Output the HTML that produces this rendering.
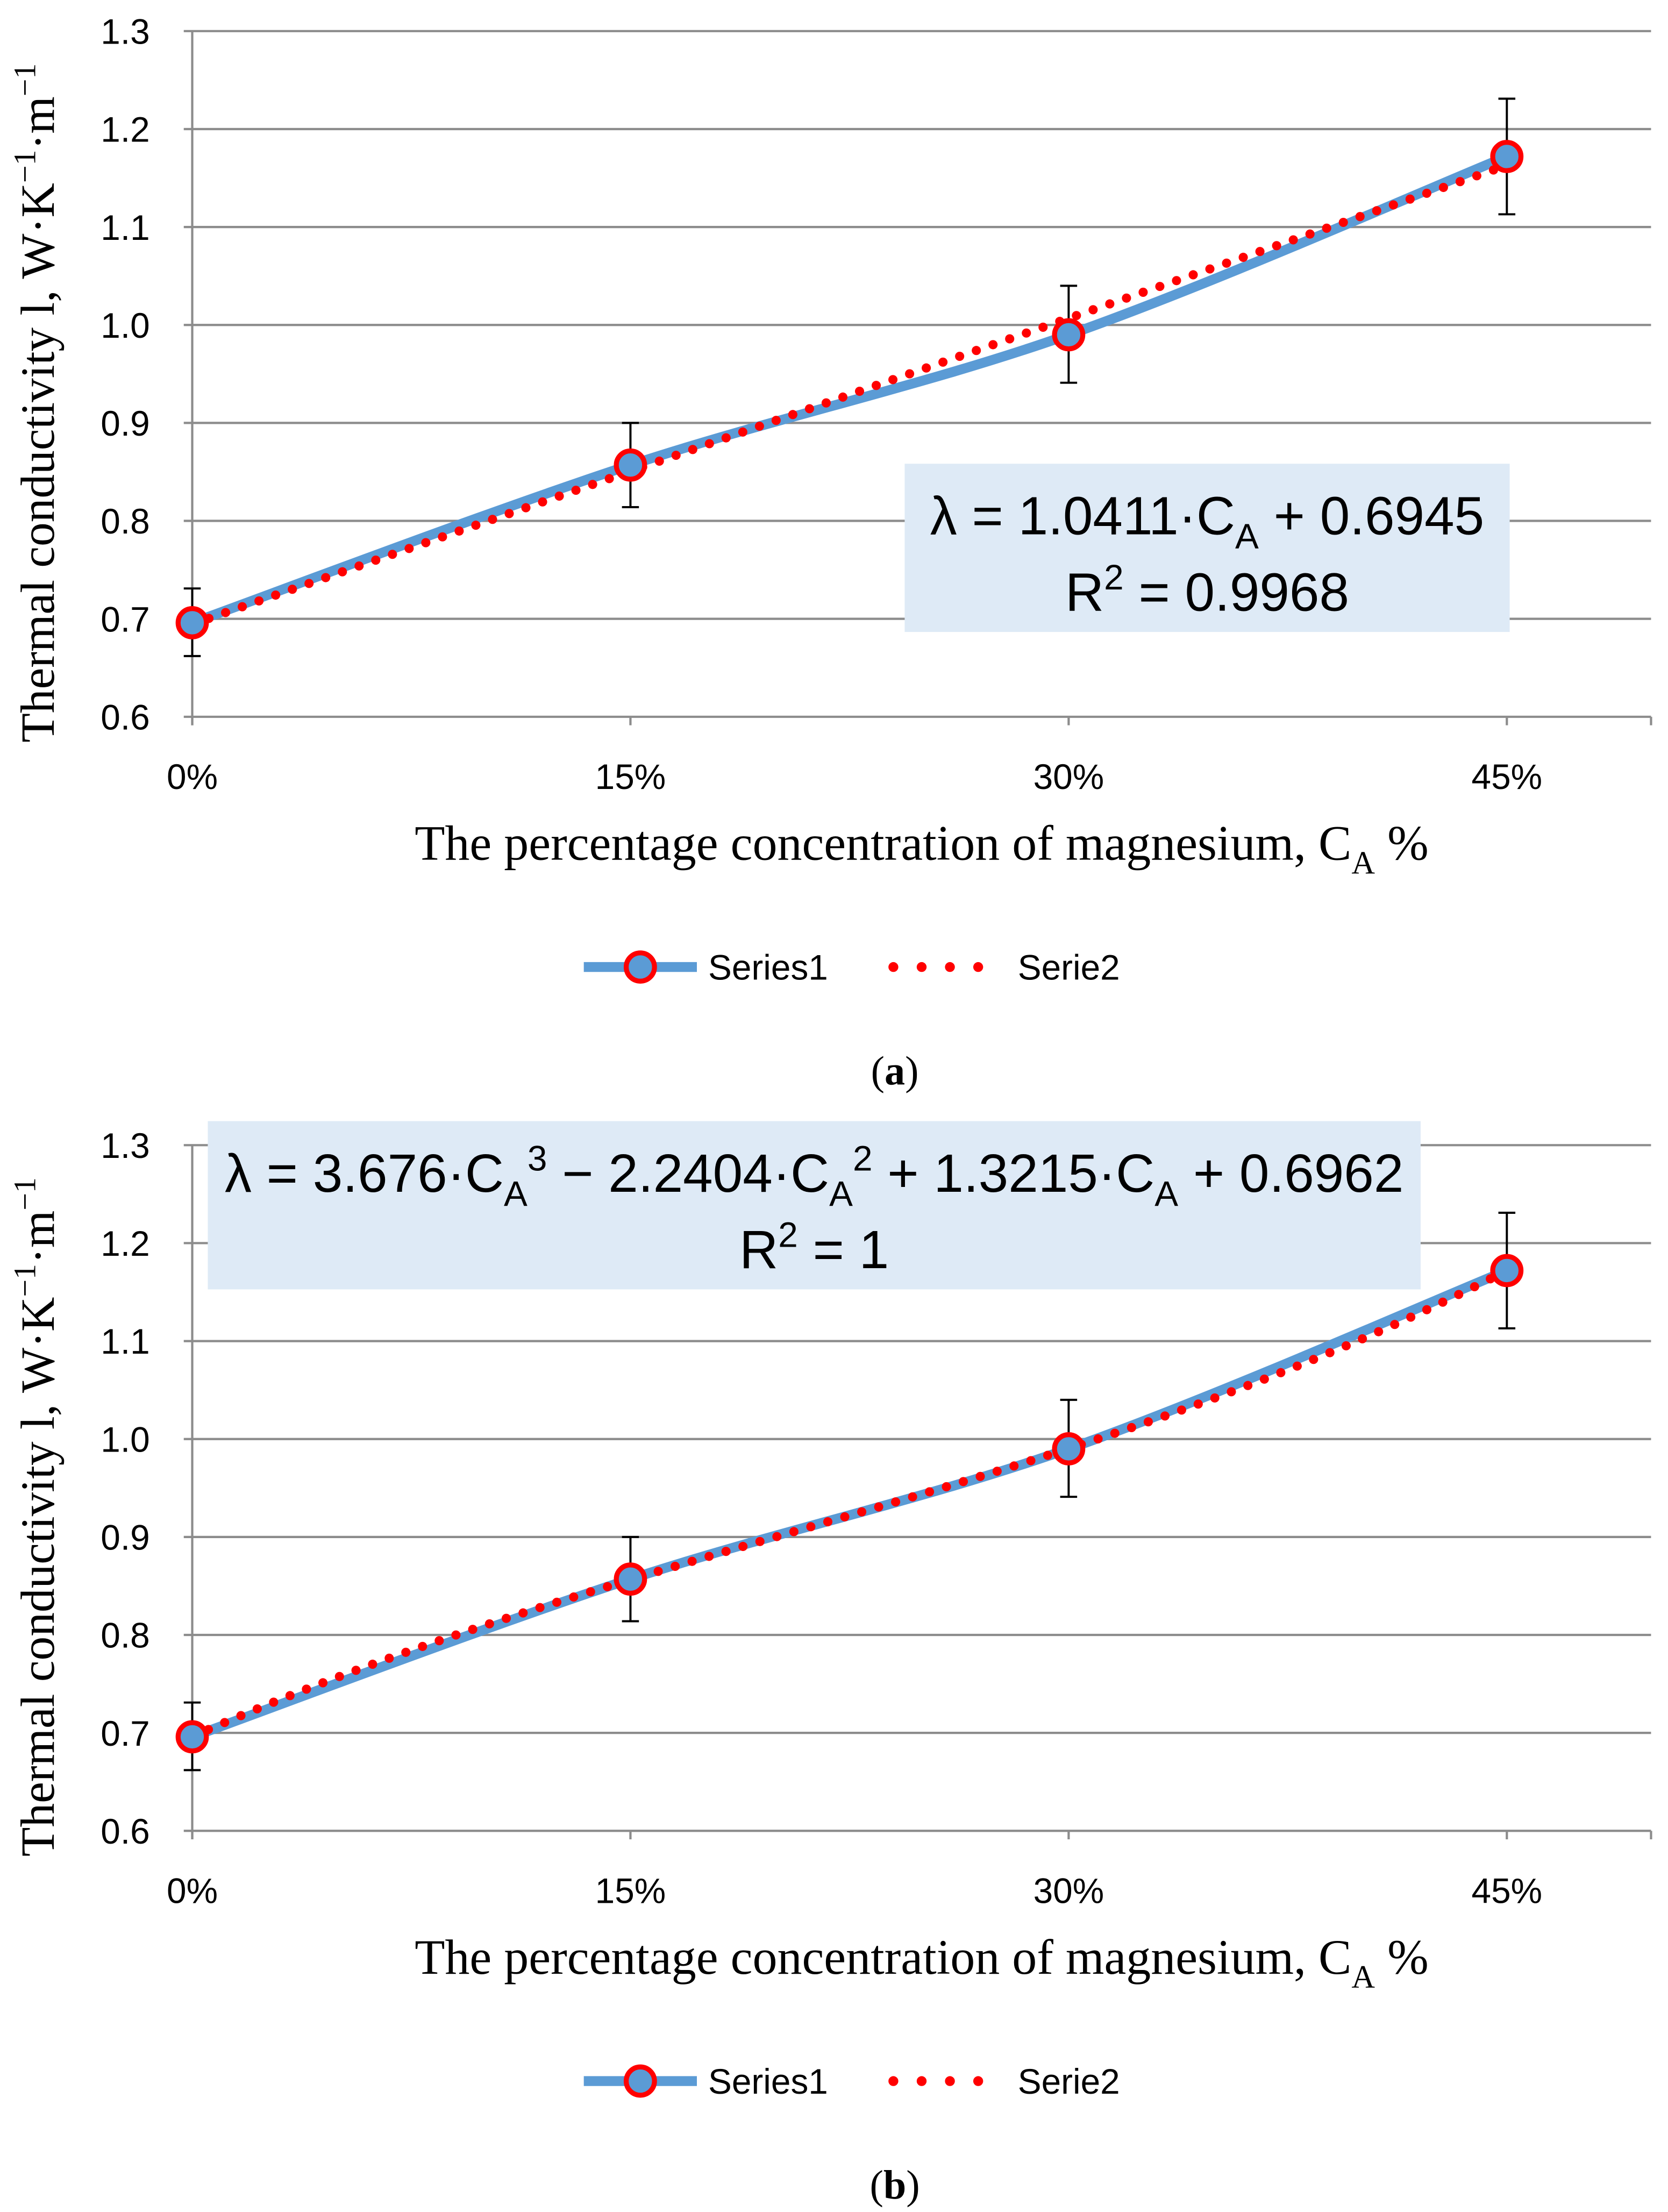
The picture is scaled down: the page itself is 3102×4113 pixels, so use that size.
<!DOCTYPE html>
<html><head><meta charset="utf-8"><style>
html,body{margin:0;padding:0;background:#fff;}
svg{display:block;}
.tick{font-family:"Liberation Sans Narrow","Liberation Sans",sans-serif;font-size:25px;fill:#000;}
.serif{font-family:"Liberation Serif",serif;fill:#000;}
.eq{font-family:"Liberation Sans Narrow","Liberation Sans",sans-serif;font-size:38px;fill:#000;}
</style></head><body>
<svg id="fig" width="3102" height="4113" viewBox="0 0 1180 1564.6" preserveAspectRatio="none" xmlns="http://www.w3.org/2000/svg"></svg>
<script>
const categories = [0, 15, 30, 45];
const seriesValues = [0.696, 0.857, 0.990, 1.172];
const errLow = [0.662, 0.814, 0.941, 1.113];
const errHigh = [0.731, 0.900, 1.040, 1.231];
const yTicks = [0.6, 0.7, 0.8, 0.9, 1.0, 1.1, 1.2, 1.3];
const xTickLabels = ["0%", "15%", "30%", "45%"];
const trendA = [0.6945, 1.0411];
const trendB = [0.6962, 1.3215, -2.2404, 3.676];

const NS = "http://www.w3.org/2000/svg";
const svg = document.getElementById('fig');
function mk(tag, attrs, parent, text){
  const e = document.createElementNS(NS, tag);
  for (const k in attrs) e.setAttribute(k, attrs[k]);
  if (text !== undefined) e.textContent = text;
  (parent || svg).appendChild(e);
  return e;
}

function drawChart(top, coeffs, box, eqLines, label, id){
  const g = mk('g', {});
  
  
  const x0 = 136, xPer = (1066 - 136) / 45, xRight = 1168;
  const yTop = top, yBot = top + 485;
  const X = v => x0 + v * xPer;
  const Y = v => yBot - (v - 0.6) / 0.7 * (yBot - yTop);
  yTicks.forEach(t => {
    const l = mk('line', {x1: x0 - 6, x2: xRight, y1: Y(t), y2: Y(t), stroke: '#8c8c8c', 'stroke-width': 1.6}, g);
    
    
    const tx = mk('text', {x: 106, y: Y(t) + 9, 'text-anchor': 'end', class: 'tick'}, g, t.toFixed(1));
    
    
  });
  mk('line', {x1: x0, x2: x0, y1: yTop, y2: yBot + 6, stroke: '#8c8c8c', 'stroke-width': 1.6}, g);
  categories.forEach((c, i) => {
    mk('line', {x1: X(c), x2: X(c), y1: yBot, y2: yBot + 6, stroke: '#8c8c8c', 'stroke-width': 1.6}, g);
    const tx = mk('text', {x: X(c), y: yBot + 51, 'text-anchor': 'middle', class: 'tick'}, g, xTickLabels[i]);
    
    
  });
  mk('line', {x1: xRight, x2: xRight, y1: yBot, y2: yBot + 6, stroke: '#8c8c8c', 'stroke-width': 1.6}, g);
  const yt = mk('text', {x: 0, y: 0, transform: `translate(38,${top + 263}) rotate(-90)`, 'text-anchor': 'middle', class: 'serif', 'font-size': 34}, g);
  yt.innerHTML = 'Thermal conductivity l, W·K<tspan dy="-13" font-size="22">−1</tspan><tspan dy="13">·m</tspan><tspan dy="-13" font-size="22">−1</tspan>';
  
  
  const xt = mk('text', {x: 652, y: yBot + 101, 'text-anchor': 'middle', class: 'serif', 'font-size': 35}, g);
  xt.innerHTML = 'The percentage concentration of magnesium, C<tspan dy="10" font-size="23">A</tspan><tspan dy="-10"> %</tspan>';
  
  
  const f = c => { const x = c / 100; let s = 0; coeffs.forEach((a, k) => s += a * Math.pow(x, k)); return s; };
  let d = '';
  for (let c = 0; c <= 45; c += 0.5) d += (c ? 'L' : 'M') + X(c).toFixed(2) + ',' + Y(f(c)).toFixed(2);
  const pts = categories.map((c, i) => [X(c), Y(seriesValues[i])]);
  let s = 'M' + pts[0][0] + ',' + pts[0][1];
  const t = 1 / 3;
  for (let i = 0; i < pts.length - 1; i++) {
    const p0 = pts[Math.max(0, i - 1)], p1 = pts[i], p2 = pts[i + 1], p3 = pts[Math.min(pts.length - 1, i + 2)];
    const c1 = [p1[0] + (p2[0] - p0[0]) * t / 2, p1[1] + (p2[1] - p0[1]) * t / 2];
    const c2 = [p2[0] - (p3[0] - p1[0]) * t / 2, p2[1] - (p3[1] - p1[1]) * t / 2];
    s += `C${c1[0]},${c1[1]} ${c2[0]},${c2[1]} ${p2[0]},${p2[1]}`;
  }
  const sl = mk('path', {d: s, fill: 'none', stroke: '#5B9BD5', 'stroke-width': 7, 'stroke-linecap': 'round'}, g);
  
  
  const tl = mk('path', {d: d, fill: 'none', stroke: '#ff0000', 'stroke-width': 6.5, 'stroke-linecap': 'round', 'stroke-dasharray': '0 12.5'}, g);
  
  
  categories.forEach((c, i) => {
    const e = mk('path', {d: `M${X(c)},${Y(errLow[i])}V${Y(errHigh[i])}M${X(c)-6},${Y(errLow[i])}h12M${X(c)-6},${Y(errHigh[i])}h12`, stroke: '#000', 'stroke-width': 1.5, fill: 'none'}, g);
    
    
    const m = mk('circle', {cx: X(c), cy: Y(seriesValues[i]), r: 10, fill: '#5B9BD5', stroke: '#ff0000', 'stroke-width': 3.5}, g);
    
    
  });
  const b = mk('rect', {x: box[0], y: box[1], width: box[2], height: box[3], fill: '#DEEAF6'}, g);
  
  
  const cx = box[0] + box[2] / 2;
  const e1 = mk('text', {x: cx, y: box[1] + 50, 'text-anchor': 'middle', class: 'eq'}, g);
  e1.innerHTML = eqLines[0];
  
  
  const e2 = mk('text', {x: cx, y: box[1] + 104, 'text-anchor': 'middle', class: 'eq'}, g);
  e2.innerHTML = eqLines[1];
  
  
  const ly = yBot + 177;
  const lg = mk('g', {}, g);
  
  
  mk('line', {x1: 413, x2: 493, y1: ly, y2: ly, stroke: '#5B9BD5', 'stroke-width': 7}, lg);
  mk('circle', {cx: 453, cy: ly, r: 10, fill: '#5B9BD5', stroke: '#ff0000', 'stroke-width': 3.5}, lg);
  mk('text', {x: 501, y: ly + 9, class: 'tick', 'font-size': 26}, lg, 'Series1');
  mk('line', {x1: 632, x2: 712, y1: ly, y2: ly, stroke: '#ff0000', 'stroke-width': 7, 'stroke-linecap': 'round', 'stroke-dasharray': '0 20'}, lg);
  mk('text', {x: 720, y: ly + 9, class: 'tick', 'font-size': 26}, lg, 'Serie2');
  const cap = mk('text', {x: 633, y: yBot + 260, 'text-anchor': 'middle', class: 'serif', 'font-size': 29}, g);
  cap.innerHTML = '(<tspan font-weight="bold">' + label + '</tspan>)';
  
  
}

drawChart(22, trendA, [640, 328, 428, 119],
  ['λ = 1.0411·C<tspan dy="10" font-size="25">A</tspan><tspan dy="-10"> + 0.6945</tspan>',
   'R<tspan dy="-15" font-size="25">2</tspan><tspan dy="15"> = 0.9968</tspan>'], 'a', 'a');
drawChart(810, trendB, [147, 793, 858, 119],
  ['λ = 3.676·C<tspan dy="10" font-size="25">A</tspan><tspan dy="-25" font-size="25">3</tspan><tspan dy="15"> − 2.2404·C</tspan><tspan dy="10" font-size="25">A</tspan><tspan dy="-25" font-size="25">2</tspan><tspan dy="15"> + 1.3215·C</tspan><tspan dy="10" font-size="25">A</tspan><tspan dy="-10"> + 0.6962</tspan>',
   'R<tspan dy="-15" font-size="25">2</tspan><tspan dy="15"> = 1</tspan>'], 'b', 'b');
</script>
</body></html>
